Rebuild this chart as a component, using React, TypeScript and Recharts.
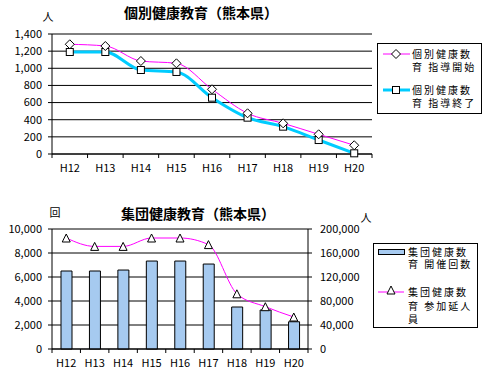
import React from 'react';
import { LineChart, Line, XAxis, YAxis, CartesianGrid, ComposedChart, Bar } from 'recharts';

const years = ['H12', 'H13', 'H14', 'H15', 'H16', 'H17', 'H18', 'H19', 'H20'];
const guidanceStart = [1280, 1260, 1085, 1058, 755, 475, 358, 230, 102];
const guidanceEnd = [1190, 1190, 980, 957, 657, 424, 319, 163, 8];
const sessions = [6500, 6500, 6580, 7330, 7330, 7080, 3500, 3250, 2270];
const participants = [185000, 171000, 171000, 185000, 185000, 174000, 92000, 70500, 53300];

const topTicks = [0, 200, 400, 600, 800, 1000, 1200, 1400];
const leftTicks = [0, 2000, 4000, 6000, 8000, 10000];
const rightTicks = [0, 40000, 80000, 120000, 160000, 200000];

const topTitle = '個別健康教育（熊本県）';
const bottomTitle = '集団健康教育（熊本県）';
const topLegend = [['個別健康数', '育 指導開始'], ['個別健康数', '育 指導終了']];
const bottomLegend = [['集団健康数', '育 開催回数'], ['集団健康数', '育 参加延人', '員']];

const topData = years.map((y, i) => ({ year: y, start: guidanceStart[i], end: guidanceEnd[i] }));
const bottomData = years.map((y, i) => ({ year: y, sessions: sessions[i], people: participants[i] }));

const FONT = '"Noto Sans CJK JP", "Noto Sans CJK SC", sans-serif';
const MAGENTA = '#FF00FF';
const CYAN = '#00CCFF';
const BARFILL = '#A6CAF0';

const fmt = (v: number) => v.toLocaleString('en-US');

const X_TICK_SIZE = 4;
const X_TICK_MARGIN = 6;

const XTick = (props: any) => {
  const { x, y, payload, index } = props;
  const off = payload && payload.offset ? payload.offset : 0;
  const ay = y - X_TICK_SIZE - X_TICK_MARGIN;
  return (
    <g>
      <text x={x} y={y} dy="0.71em" textAnchor="middle" fontSize={11} fontFamily={FONT} fill="#000">
        {payload.value}
      </text>
      <line x1={x + off} x2={x + off} y1={ay} y2={ay + X_TICK_SIZE} stroke="#000" />
      {index === 0 && <line x1={x - off} x2={x - off} y1={ay} y2={ay + X_TICK_SIZE} stroke="#000" />}
    </g>
  );
};

const Diamond = (p: any) => {
  const { cx, cy, index } = p;
  if (cx == null || cy == null) return <g key={index} />;
  const r = 4.5;
  return (
    <path key={index} d={`M${cx},${cy - r}L${cx + r},${cy}L${cx},${cy + r}L${cx - r},${cy}Z`} fill="#fff" stroke="#000" strokeWidth={1} />
  );
};

const Square = (p: any) => {
  const { cx, cy, index } = p;
  if (cx == null || cy == null) return <g key={index} />;
  const r = 3.5;
  return <rect key={index} x={cx - r} y={cy - r} width={2 * r} height={2 * r} fill="#fff" stroke="#000" strokeWidth={1} />;
};

const Triangle = (p: any) => {
  const { cx, cy, index } = p;
  if (cx == null || cy == null) return <g key={index} />;
  const r = 4;
  return (
    <path key={index} d={`M${cx},${cy - r}L${cx + r},${cy + r}L${cx - r},${cy + r}Z`} fill="#fff" stroke="#000" strokeWidth={1} />
  );
};

const tickStyle = { fontSize: 11, fontFamily: FONT, fill: '#000' };
const legendText = { fontSize: 10, letterSpacing: 2, fill: '#000' };

export default function App() {
  return (
    <div style={{ position: 'absolute', left: 0, top: 0, width: 492, height: 377, background: '#fff' }}>
      <div style={{ position: 'absolute', left: 0, top: 0 }}>
        <LineChart width={492} height={175} data={topData} margin={{ top: 34, right: 120, bottom: 1, left: 8 }}>
          <CartesianGrid vertical={false} stroke="#000" strokeOpacity={1} />
          <XAxis dataKey="year" scale="band" height={20} interval={0} tickLine={false} tickSize={X_TICK_SIZE}
            tickMargin={X_TICK_MARGIN} axisLine={{ stroke: '#000' }} tick={<XTick />} />
          <YAxis width={44} domain={[0, 1400]} ticks={topTicks} interval={0} tickFormatter={fmt}
            tickSize={4} tickMargin={6} axisLine={{ stroke: '#000' }} tickLine={{ stroke: '#000' }} tick={tickStyle} />
          <YAxis yAxisId="r" orientation="right" width={0} domain={[0, 1400]} tick={false} tickLine={false}
            axisLine={{ stroke: '#000' }} />
          <Line type="monotone" dataKey="end" stroke={CYAN} strokeWidth={3} dot={Square} isAnimationActive={false} />
          <Line type="monotone" dataKey="start" stroke={MAGENTA} strokeWidth={1} dot={Diamond} isAnimationActive={false} />
        </LineChart>
      </div>
      <div style={{ position: 'absolute', left: 0, top: 195 }}>
        <ComposedChart width={492} height={180} data={bottomData} margin={{ top: 34, right: 124, bottom: 6, left: 8 }}>
          <CartesianGrid yAxisId="l" vertical={false} stroke="#000" strokeOpacity={1} />
          <XAxis dataKey="year" scale="band" height={20} interval={0} tickLine={false} tickSize={X_TICK_SIZE}
            tickMargin={X_TICK_MARGIN} axisLine={{ stroke: '#000' }} tick={<XTick />} />
          <YAxis yAxisId="l" width={44} domain={[0, 10000]} ticks={leftTicks} interval={0} tickFormatter={fmt}
            tickSize={4} tickMargin={6} axisLine={{ stroke: '#000' }} tickLine={{ stroke: '#000' }} tick={tickStyle} />
          <YAxis yAxisId="r" orientation="right" width={60} domain={[0, 200000]} ticks={rightTicks} interval={0}
            tickFormatter={fmt} tickSize={4} tickMargin={8} axisLine={{ stroke: '#000' }} tickLine={{ stroke: '#000' }}
            tick={{ ...tickStyle, textAnchor: 'start' }} />
          <Bar yAxisId="l" dataKey="sessions" barSize={11} fill={BARFILL} stroke="#000" strokeWidth={1} isAnimationActive={false} />
          <Line yAxisId="r" type="monotone" dataKey="people" stroke={MAGENTA} strokeWidth={1} dot={Triangle} isAnimationActive={false} />
        </ComposedChart>
      </div>
      <svg width={492} height={377} style={{ position: 'absolute', left: 0, top: 0, pointerEvents: 'none' }}
        fontFamily={FONT}>
        <text x={201} y={18} textAnchor="middle" fontSize={14} fontWeight="bold" fill="#000">{topTitle}</text>
        <text x={48} y={21} textAnchor="middle" fontSize={11} fill="#000">人</text>
        <text x={198} y={219} textAnchor="middle" fontSize={14} fontWeight="bold" fill="#000">{bottomTitle}</text>
        <text x={55} y={217} textAnchor="middle" fontSize={11} fill="#000">回</text>
        <text x={366} y={222} textAnchor="middle" fontSize={11} fill="#000">人</text>

        <rect x={377.5} y={43.5} width={104} height={70} fill="#fff" stroke="#000" />
        <line x1={383} x2={410} y1={54} y2={54} stroke={MAGENTA} />
        <Diamond cx={396} cy={54} index={0} />
        <text x={412} y={58} {...legendText}>{topLegend[0][0]}</text>
        <text x={412} y={71} {...legendText}>{topLegend[0][1]}</text>
        <line x1={383} x2={410} y1={90} y2={90} stroke={CYAN} strokeWidth={3} />
        <Square cx={396} cy={90} index={1} />
        <text x={412} y={94} {...legendText}>{topLegend[1][0]}</text>
        <text x={412} y={107} {...legendText}>{topLegend[1][1]}</text>

        <rect x={373.5} y={243.5} width={104} height={84} fill="#fff" stroke="#000" />
        <rect x={378.5} y={249.5} width={26} height={5} fill={BARFILL} stroke="#000" />
        <text x={408} y={256} {...legendText}>{bottomLegend[0][0]}</text>
        <text x={408} y={268} {...legendText}>{bottomLegend[0][1]}</text>
        <line x1={378} x2={404} y1={292} y2={292} stroke={MAGENTA} />
        <Triangle cx={391} cy={290} index={2} />
        <text x={408} y={296} {...legendText}>{bottomLegend[1][0]}</text>
        <text x={408} y={310} {...legendText}>{bottomLegend[1][1]}</text>
        <text x={408} y={323} {...legendText}>{bottomLegend[1][2]}</text>
      </svg>
    </div>
  );
}
